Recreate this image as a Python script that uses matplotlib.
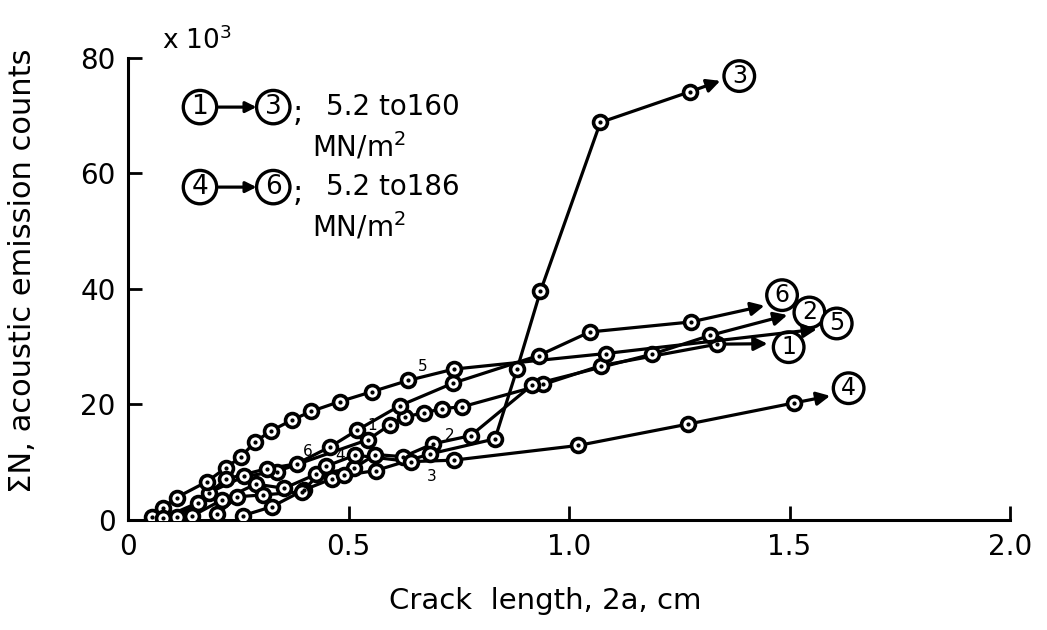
import matplotlib.pyplot as plt

# crack length 2a (cm) and cumulative AE counts (x10^3), runs 1..6
x1 = [0.111, 0.184, 0.263, 0.337, 0.544, 0.593, 0.628, 0.671, 0.712, 0.757, 0.942, 1.072, 1.336]
y1 = [0.60, 4.75, 7.53, 8.39, 13.89, 16.42, 17.89, 18.51, 19.29, 19.57, 23.46, 26.70, 30.42]

x2 = [0.145, 0.212, 0.290, 0.354, 0.426, 0.512, 0.561, 0.624, 0.692, 0.777, 0.917, 1.189, 1.320]
y2 = [0.68, 3.43, 6.21, 5.49, 7.90, 8.96, 11.33, 10.95, 13.19, 14.59, 23.40, 28.70, 31.94]

x3 = [0.261, 0.326, 0.400, 0.462, 0.489, 0.562, 0.685, 0.832, 0.882, 0.935, 1.071, 1.274]
y3 = [0.77, 2.30, 5.24, 7.12, 7.70, 8.56, 11.44, 14.03, 26.09, 39.55, 68.78, 74.09]

x4 = [0.202, 0.248, 0.305, 0.395, 0.450, 0.515, 0.641, 0.738, 1.021, 1.269, 1.510]
y4 = [0.98, 4.03, 4.33, 4.89, 9.34, 11.22, 10.10, 10.35, 12.90, 16.58, 20.25]

x5 = [0.054, 0.079, 0.110, 0.179, 0.221, 0.257, 0.287, 0.325, 0.372, 0.415, 0.480, 0.554, 0.635, 0.739, 1.083]
y5 = [0.47, 2.08, 3.89, 6.64, 8.99, 10.98, 13.47, 15.46, 17.30, 18.79, 20.49, 22.22, 24.14, 26.11, 28.80]

x6 = [0.079, 0.158, 0.222, 0.314, 0.382, 0.458, 0.520, 0.616, 0.737, 0.931, 1.047, 1.276]
y6 = [0.35, 2.96, 7.09, 8.86, 9.71, 12.65, 15.56, 19.77, 23.68, 28.45, 32.53, 34.26]

# arrow tips and circled run numbers at the end of each curve
run_names = ["1", "2", "3", "4", "5", "6"]
arrow_x = [1.450, 1.495, 1.343, 1.592, 1.562, 1.443]
arrow_y = [30.50, 35.46, 75.98, 21.48, 33.01, 37.07]
tag_x = [1.498, 1.545, 1.386, 1.634, 1.607, 1.483]
tag_y = [29.9, 35.9, 76.8, 22.8, 34.0, 38.9]

# small numbers written next to the curves
small_x = [0.554, 0.730, 0.689, 0.481, 0.668, 0.408]
small_y = [16.3, 14.7, 7.6, 11.2, 26.6, 11.8]

xs = [x1, x2, x3, x4, x5, x6]
ys = [y1, y2, y3, y4, y5, y6]

plt.rcParams['font.family'] = ['DejaVu Sans']

fig = plt.figure(figsize=(10.47, 6.3), dpi=100)
ax = fig.add_axes([0.1223, 0.1746, 0.8424, 0.734])

circle = dict(boxstyle="circle,pad=0.14", facecolor="white", edgecolor="black", linewidth=2.4)

for i in range(6):
    x = xs[i]
    y = ys[i]
    ax.plot(x, y, color="black", linewidth=2.3, zorder=2)
    ax.plot(x, y, linestyle="none", marker="o", markersize=10,
            markerfacecolor="white", markeredgecolor="black", markeredgewidth=2.6, zorder=3)
    ax.plot(x, y, linestyle="none", marker="o", markersize=2,
            color="black", zorder=4)
    ax.annotate("", xy=(arrow_x[i], arrow_y[i]), xytext=(x[-1], y[-1]),
                arrowprops=dict(arrowstyle="-|>", color="black", lw=2.3,
                                mutation_scale=20, shrinkA=6, shrinkB=0))
    ax.text(tag_x[i], tag_y[i], run_names[i], fontsize=17, ha="center", va="center",
            bbox=circle)
    ax.text(small_x[i], small_y[i], run_names[i], fontsize=11, ha="center", va="center")

ax.set_xlim(0, 2.0)
ax.set_ylim(0, 80)
ax.set_xticks([0, 0.5, 1.0, 1.5, 2.0])
ax.set_xticklabels(["0", "0.5", "1.0", "1.5", "2.0"])
ax.set_yticks([0, 20, 40, 60, 80])
ax.set_yticklabels(["0", "20", "40", "60", "80"])
ax.tick_params(direction="in", length=10, width=2, labelsize=20, pad=9)

for side in ["top", "right"]:
    ax.spines[side].set_visible(False)
for side in ["left", "bottom"]:
    ax.spines[side].set_linewidth(2.2)

ax.set_xlabel("Crack  length, 2a, cm", fontsize=21)
ax.xaxis.set_label_coords(0.473, -0.145)
ax.set_ylabel("ΣN, acoustic emission counts", fontsize=22)
ax.yaxis.set_label_coords(-0.103, 0.54)

# x10^3 multiplier and the stress-range key
fig.text(0.155, 0.935, "x 10$^3$", fontsize=19, ha="left", va="center")

key_rows = [0.830, 0.703]
key_first = ["1", "4"]
key_last = ["3", "6"]
key_range = ["5.2 to160", "5.2 to186"]
for k in range(2):
    yk = key_rows[k]
    fig.text(0.191, yk, key_first[k], fontsize=19, ha="center", va="center", bbox=circle)
    ax.annotate("", xy=(0.245, yk), xytext=(0.209, yk), xycoords="figure fraction",
                textcoords="figure fraction",
                arrowprops=dict(arrowstyle="-|>", color="black", lw=2.3,
                                mutation_scale=16, shrinkA=0, shrinkB=0))
    fig.text(0.261, yk, key_last[k], fontsize=19, ha="center", va="center", bbox=circle)
    fig.text(0.279, yk - 0.008, ";", fontsize=22, ha="left", va="center")
    fig.text(0.311, yk, key_range[k], fontsize=20, ha="left", va="center")
    fig.text(0.298, yk - 0.062, "MN/m$^2$", fontsize=20, ha="left", va="center")

fig.savefig("out.png", dpi=100)
